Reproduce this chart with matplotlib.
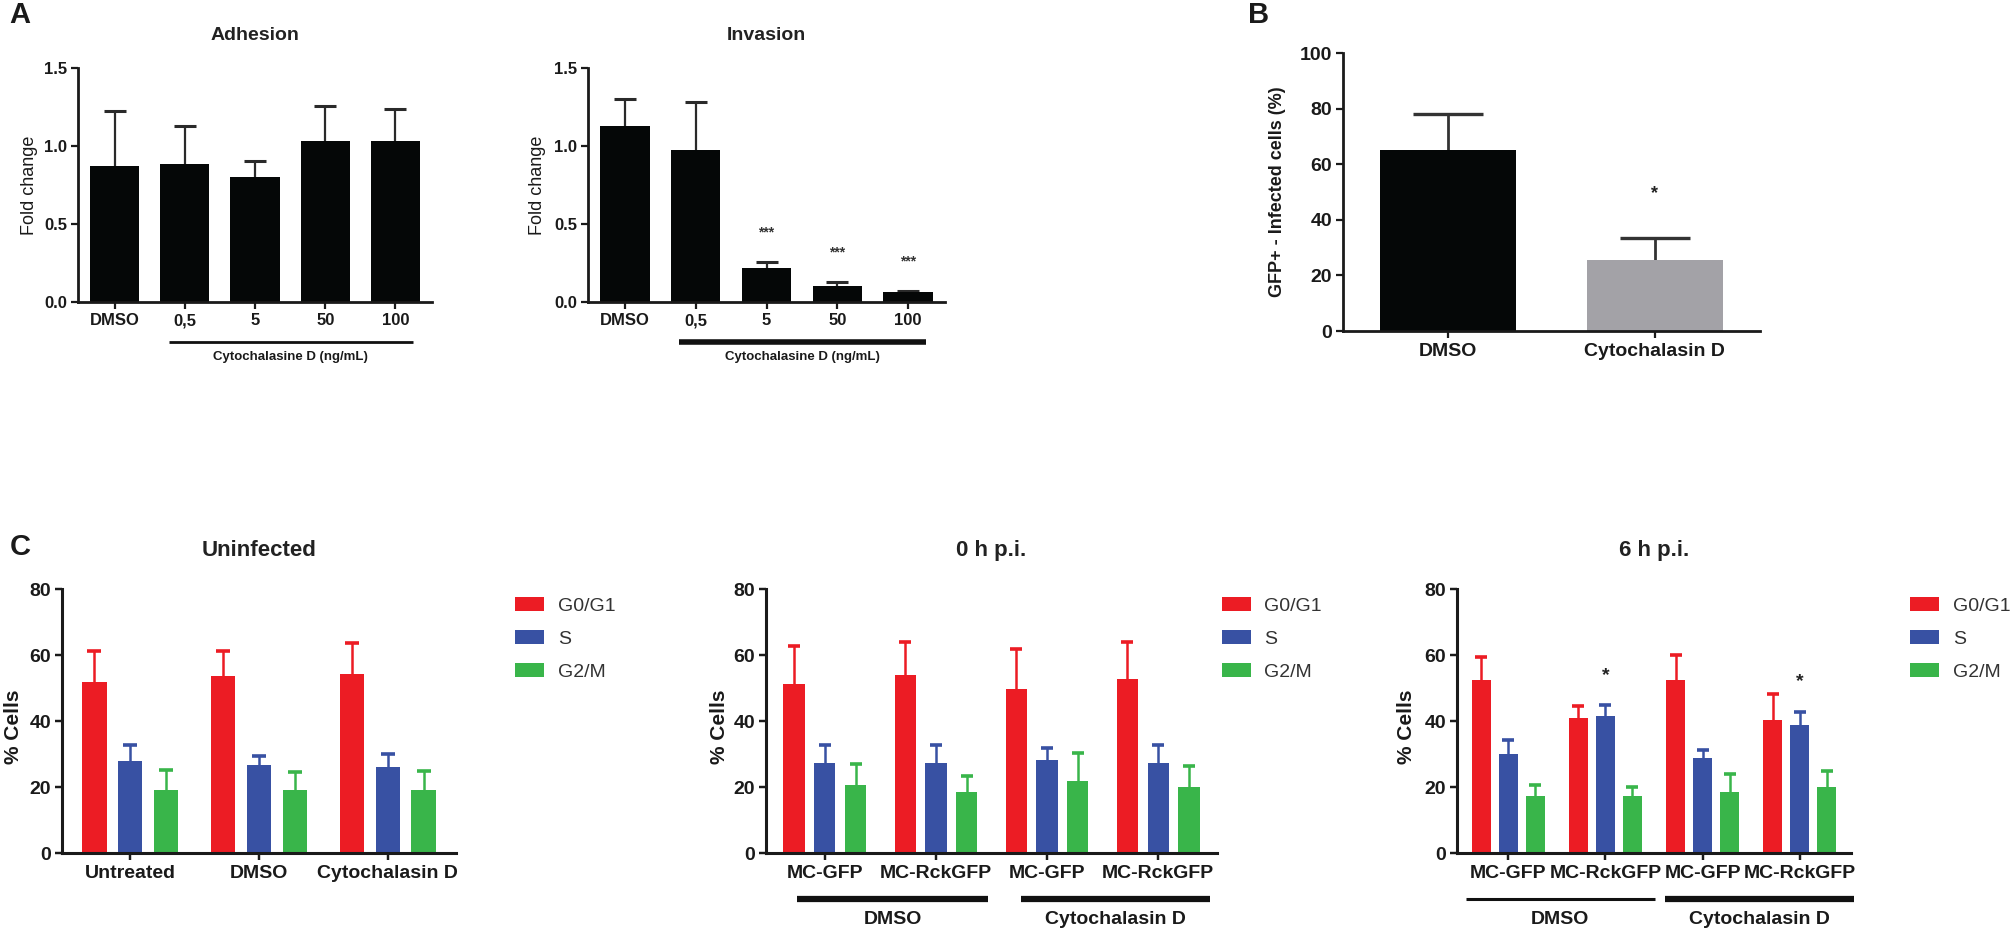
import matplotlib
matplotlib.use("Agg")
import matplotlib.pyplot as plt
import matplotlib.transforms as mtransforms
from matplotlib.patches import Patch
import numpy as np

plt.rcParams['font.family'] = ['Liberation Sans', 'DejaVu Sans']
plt.rcParams['text.color'] = '#1a1a1a'
plt.rcParams['axes.labelcolor'] = '#1a1a1a'
plt.rcParams['xtick.color'] = '#1a1a1a'
plt.rcParams['ytick.color'] = '#1a1a1a'

# ---------------- data ----------------
# Panel A
conc_labels = ['DMSO', '0,5', '5', '50', '100']
adhesion_mean = [0.87, 0.885, 0.80, 1.03, 1.03]
adhesion_err = [0.355, 0.245, 0.105, 0.225, 0.21]
invasion_mean = [1.13, 0.975, 0.22, 0.104, 0.062]
invasion_err = [0.17, 0.305, 0.034, 0.026, 0.006]
invasion_sig = ['', '', '***', '***', '***']
treat_label_A = 'Cytochalasine D (ng/mL)'

# Panel B
b_labels = ['DMSO', 'Cytochalasin D']
b_mean = [65.0, 25.4]
b_err = [13.0, 8.2]
b_sig = ['', '*']

# Panel C
phases = ['G0/G1', 'S', 'G2/M']
phase_colors = ['#EC1C24', '#3851A3', '#39B54A']

uninf_groups = ['Untreated', 'DMSO', 'Cytochalasin D']
uninf_g1 = [51.7, 53.6, 54.3]
uninf_g1_err = [9.4, 7.5, 9.3]
uninf_s = [28.0, 26.6, 26.0]
uninf_s_err = [4.6, 2.9, 3.9]
uninf_g2m = [19.2, 19.2, 19.2]
uninf_g2m_err = [5.9, 5.4, 5.6]

strain_groups = ['MC-GFP', 'MC-RckGFP', 'MC-GFP', 'MC-RckGFP']
treatments = ['DMSO', 'Cytochalasin D']

h0_g1 = [51.1, 53.9, 49.6, 52.7]
h0_g1_err = [11.5, 9.9, 12.2, 11.1]
h0_s = [27.3, 27.3, 28.1, 27.3]
h0_s_err = [5.3, 5.3, 3.8, 5.3]
h0_g2m = [20.6, 18.5, 21.8, 19.9]
h0_g2m_err = [6.5, 4.8, 8.4, 6.4]

h6_g1 = [52.4, 40.8, 52.4, 40.2]
h6_g1_err = [6.9, 3.8, 7.5, 8.1]
h6_s = [30.1, 41.6, 28.7, 38.9]
h6_s_err = [4.0, 3.2, 2.5, 3.9]
h6_g2m = [17.2, 17.2, 18.6, 19.9]
h6_g2m_err = [3.4, 2.7, 5.3, 5.1]
h6_s_sig = ['', '*', '', '*']

# ---------------- helpers ----------------
W, H = 2014, 935


def add_axes_px(fig, x0, x1, ytop, ybot):
    return fig.add_axes([x0 / W, 1 - ybot / H, (x1 - x0) / W, (ybot - ytop) / H])


def style_axes(ax, lw=2.0, tick_fs=12):
    for s in ['top', 'right']:
        ax.spines[s].set_visible(False)
    for s in ['left', 'bottom']:
        ax.spines[s].set_linewidth(lw)
        ax.spines[s].set_color('#1a1a1a')
    ax.tick_params(axis='both', width=lw * 0.8, length=5, labelsize=tick_fs, pad=3)
    for lab in ax.get_xticklabels() + ax.get_yticklabels():
        lab.set_fontweight('bold')


def upper_errorbar(ax, x, means, errs, color, capsize, lw=1.6, capthick=2.0):
    n = len(means)
    _, caps, _ = ax.errorbar(x, means, yerr=[np.zeros(n), errs], fmt='none',
                             ecolor=color, elinewidth=lw, capsize=capsize,
                             capthick=capthick, zorder=1)
    for c in caps:
        if np.allclose(c.get_ydata(), means):
            c.set_visible(False)


def bracket(ax, x0, x1, y, text, lw, text_y, fs):
    tr = mtransforms.blended_transform_factory(ax.transData, ax.transAxes)
    ax.plot([x0, x1], [y, y], color='#111111', lw=lw, transform=tr,
            clip_on=False, solid_capstyle='butt')
    ax.text((x0 + x1) / 2, text_y, text, transform=tr, ha='center', va='center',
            fontsize=fs, fontweight='bold')


fig = plt.figure(figsize=(W / 100, H / 100), dpi=100)

# ---------------- Panel A ----------------
xa = np.arange(len(conc_labels))
for (x0, x1, title, means, errs, sig, blw, ylx) in [
        (78, 432, 'Adhesion', adhesion_mean, adhesion_err, None, 2.0, -0.112),
        (588, 945, 'Invasion', invasion_mean, invasion_err, invasion_sig, 4.0, -0.118)]:
    ax = add_axes_px(fig, x0, x1, 68, 302)
    ax.bar(xa, means, width=0.7, color='#050707', zorder=2)
    upper_errorbar(ax, xa, means, errs, '#2a2a2a', capsize=8, lw=1.6, capthick=2.2)
    ax.set_xlim(-0.52, 4.52)
    ax.set_ylim(0, 1.5)
    ax.set_yticks([0.0, 0.5, 1.0, 1.5])
    ax.set_yticklabels(['0.0', '0.5', '1.0', '1.5'])
    ax.set_xticks(xa)
    ax.set_xticklabels(conc_labels)
    style_axes(ax, lw=2.0, tick_fs=12)
    ax.set_title(title, fontsize=14, fontweight='bold', pad=20, color='#222222')
    ax.set_ylabel('Fold change', fontsize=13)
    ax.yaxis.set_label_coords(ylx, 0.5)
    if sig is not None:
        for xi, m, e, s in zip(xa, means, errs, sig):
            if s:
                ax.text(xi, m + e + 0.19, s, ha='center', va='center', fontsize=10,
                        fontweight='bold', color='#333333')
    bracket(ax, 0.77, 4.25, -0.171, treat_label_A, blw, -0.235, 9.5)

fig.text(9 / W, 1 - 15 / H, 'A', fontsize=21, fontweight='bold', ha='left', va='center')

# ---------------- Panel B ----------------
axb = add_axes_px(fig, 1343, 1760, 53, 331)
xb = np.arange(len(b_labels))
axb.bar(xb, b_mean, width=0.66, color=['#050707', '#A3A2A7'], zorder=2)
upper_errorbar(axb, xb, b_mean, b_err, '#333333', capsize=25, lw=2.0, capthick=2.4)
axb.set_xlim(-0.51, 1.51)
axb.set_ylim(0, 100)
axb.set_yticks([0, 20, 40, 60, 80, 100])
axb.set_xticks(xb)
axb.set_xticklabels(b_labels)
style_axes(axb, lw=2.0, tick_fs=14)
axb.tick_params(axis='x', labelsize=14, pad=4)
axb.set_ylabel('GFP+ - Infected cells (%)', fontsize=13, fontweight='bold')
axb.yaxis.set_label_coords(-0.136, 0.5)
for xi, m, e, s in zip(xb, b_mean, b_err, b_sig):
    if s:
        axb.text(xi, m + e + 16, s, ha='center', va='center', fontsize=13,
                 fontweight='bold', color='#222222')
fig.text(1248 / W, 1 - 15 / H, 'B', fontsize=21, fontweight='bold', ha='left', va='center')


# ---------------- Panel C ----------------
def cycle_panel(x0, x1, title, groups, series, errs, legend_x, sig=None,
                brackets=None, capsize=4.5):
    ax = add_axes_px(fig, x0, x1, 589, 853)
    xg = np.arange(len(groups))
    off = 0.278
    for i, (vals, ev, col) in enumerate(zip(series, errs, phase_colors)):
        xs = xg + (i - 1) * off
        ax.bar(xs, vals, width=0.19, color=col, zorder=2, label=phases[i])
        upper_errorbar(ax, xs, vals, ev, col, capsize=capsize, lw=1.8, capthick=2.6)
    if sig is not None:
        for xi, m, e, s in zip(xg, series[1], errs[1], sig):
            if s:
                ax.text(xi, m + e + 9.0, s, ha='center', va='center', fontsize=14,
                        fontweight='bold', color='#222222')
    ax.set_xlim(-0.53, len(groups) - 1 + 0.53)
    ax.set_ylim(0, 80)
    ax.set_yticks([0, 20, 40, 60, 80])
    ax.set_xticks(xg)
    ax.set_xticklabels(groups)
    style_axes(ax, lw=2.2, tick_fs=14)
    ax.tick_params(axis='x', pad=4)
    ax.set_title(title, fontsize=16, fontweight='bold', pad=24, color='#222222')
    ax.set_ylabel('% Cells', fontsize=15, fontweight='bold')
    handles = [Patch(facecolor=c, edgecolor='none') for c in phase_colors]
    leg = ax.legend(handles, phases, loc='upper left', bbox_to_anchor=legend_x,
                    frameon=False, fontsize=14, handlelength=1.5, handleheight=0.72,
                    handletextpad=0.7, labelspacing=0.8, borderpad=0, borderaxespad=0)
    for t in leg.get_texts():
        t.set_color('#333333')
    if brackets:
        for (bx0, bx1, txt, blw) in brackets:
            bracket(ax, bx0, bx1, -0.174, txt, blw, -0.25, 14)
    return ax


ax1 = cycle_panel(62, 456, 'Uninfected', uninf_groups,
                  [uninf_g1, uninf_s, uninf_g2m],
                  [uninf_g1_err, uninf_s_err, uninf_g2m_err],
                  legend_x=(1.15, 0.97), capsize=5)
ax1.yaxis.set_label_coords(-0.10, 0.48)

ax2 = cycle_panel(766, 1217, '0 h p.i.', strain_groups,
                  [h0_g1, h0_s, h0_g2m],
                  [h0_g1_err, h0_s_err, h0_g2m_err],
                  legend_x=(1.01, 0.97),
                  brackets=[(-0.25, 1.47, treatments[0], 4.5),
                            (1.77, 3.47, treatments[1], 4.5)])
ax2.yaxis.set_label_coords(-0.083, 0.48)

ax3 = cycle_panel(1457, 1851, '6 h p.i.', strain_groups,
                  [h6_g1, h6_s, h6_g2m],
                  [h6_g1_err, h6_s_err, h6_g2m_err],
                  legend_x=(1.15, 0.97), sig=h6_s_sig,
                  brackets=[(-0.44, 1.51, treatments[0], 2.2),
                            (1.61, 3.56, treatments[1], 4.5)], capsize=4)
ax3.yaxis.set_label_coords(-0.103, 0.48)

fig.text(10 / W, 1 - 547 / H, 'C', fontsize=21, fontweight='bold', ha='left', va='center')

fig.savefig('out.png', dpi=100)
